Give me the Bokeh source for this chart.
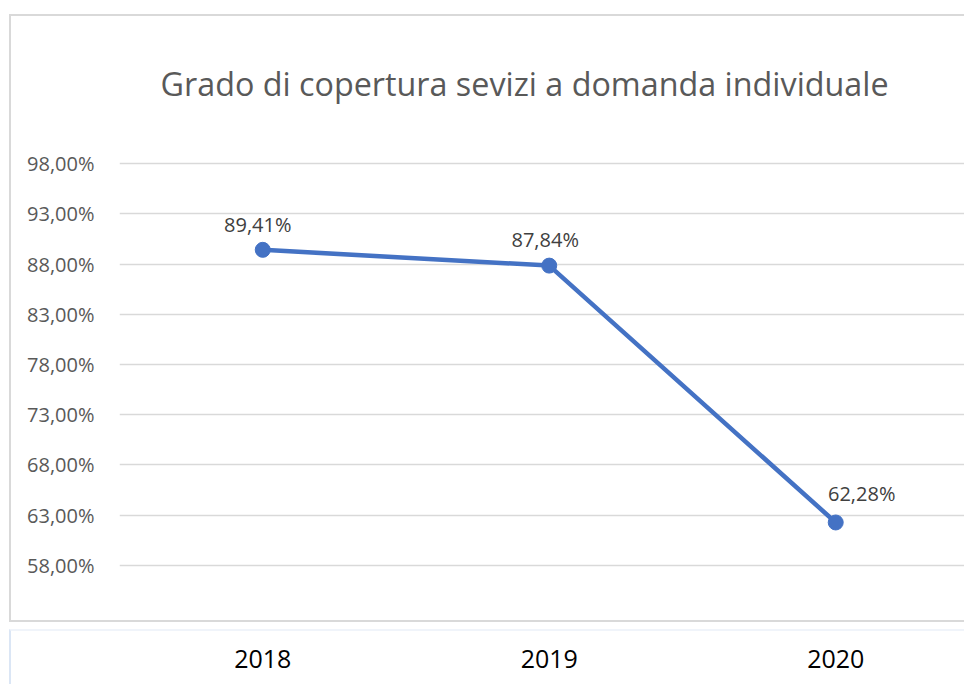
from bokeh.plotting import figure
from bokeh.models import (ColumnDataSource, FixedTicker, CustomJSTickFormatter,
                          LabelSet, Title, Range1d, InlineStyleSheet)
from bokeh.core.properties import value
from bokeh.embed import file_html
from bokeh.resources import INLINE

# ---- data ----
years = ["2018", "2019", "2020"]
coverage = [89.41, 87.84, 62.28]
y_ticks = [58, 63, 68, 73, 78, 83, 88, 93, 98]
title_text = "Grado di copertura sevizi a domanda individuale"

# label tweaks (screen px)
label_dx = [-5, -4, 26]
label_dy = [25, 26, 29]

xs = list(range(len(years)))
labels = [f"{v:.2f}".replace(".", ",") + "%" for v in coverage]
src = ColumnDataSource(dict(x=xs, y=coverage, lab=labels, dx=label_dx, dy=label_dy))

FONT = "Open Sans"
W, H = 964, 684

border_css = InlineStyleSheet(css="""
:host::after {
  content: "";
  position: absolute;
  left: 9px; top: 14px; width: 980px; height: 608px;
  border: 2px solid #d9d9d9;
  pointer-events: none;
  box-sizing: border-box;
}
:host::before {
  content: "";
  position: absolute;
  left: 9px; top: 629px; width: 980px; height: 80px;
  border-top: 2px solid #f0f4fa;
  border-left: 2px solid #dbe6f5;
  pointer-events: none;
  box-sizing: border-box;
  z-index: 5;
}
""")

p = figure(width=W, height=H, output_backend="svg", toolbar_location=None,
           x_range=Range1d(-0.5, 2.4495), y_range=Range1d(57.7, 98.3),
           min_border_left=119, min_border_right=0, min_border_top=160,
           min_border_bottom=116, stylesheets=[border_css])
p.outline_line_color = None
p.background_fill_color = "white"
p.border_fill_color = "white"

# y axis
p.yaxis.ticker = FixedTicker(ticks=y_ticks)
p.yaxis.formatter = CustomJSTickFormatter(code="return tick.toFixed(2).replace('.', ',') + '%';")
p.yaxis.axis_line_color = None
p.yaxis.major_tick_line_color = None
p.yaxis.minor_tick_line_color = None
p.yaxis.major_label_text_font = FONT
p.yaxis.major_label_text_font_size = "20px"
p.yaxis.major_label_text_color = "#595959"
p.yaxis.major_label_standoff = 19

# x axis
p.xaxis.ticker = FixedTicker(ticks=xs)
p.xaxis.major_label_overrides = {i: y for i, y in enumerate(years)}
p.xaxis.axis_line_color = None
p.xaxis.major_tick_line_color = None
p.xaxis.minor_tick_line_color = None
p.xaxis.major_label_text_font = FONT
p.xaxis.major_label_text_font_size = "25px"
p.xaxis.major_label_text_color = "#000000"
p.xaxis.major_label_standoff = 75

# grid
p.xgrid.grid_line_color = None
p.ygrid.ticker = FixedTicker(ticks=y_ticks)
p.ygrid.grid_line_color = "#d9d9d9"
p.ygrid.grid_line_width = 1.5

# series
p.line("x", "y", source=src, line_color="#4472C4", line_width=4.5)
p.scatter("x", "y", source=src, size=15, fill_color="#4472C4", line_color="#4472C4")

p.add_layout(LabelSet(x="x", y="y", text="lab", source=src, x_offset="dx", y_offset="dy",
                      text_align="center", text_baseline="middle",
                      text_font=value(FONT), text_font_size=value("20px"),
                      text_color="#404040"))

# title
p.add_layout(Title(text=title_text, align="left", offset=41, standoff=112,
                   text_font=FONT, text_font_size="32.3px", text_font_style="normal",
                   text_color="#595959"), "above")

open("out.html", "w").write(file_html(p, INLINE))
